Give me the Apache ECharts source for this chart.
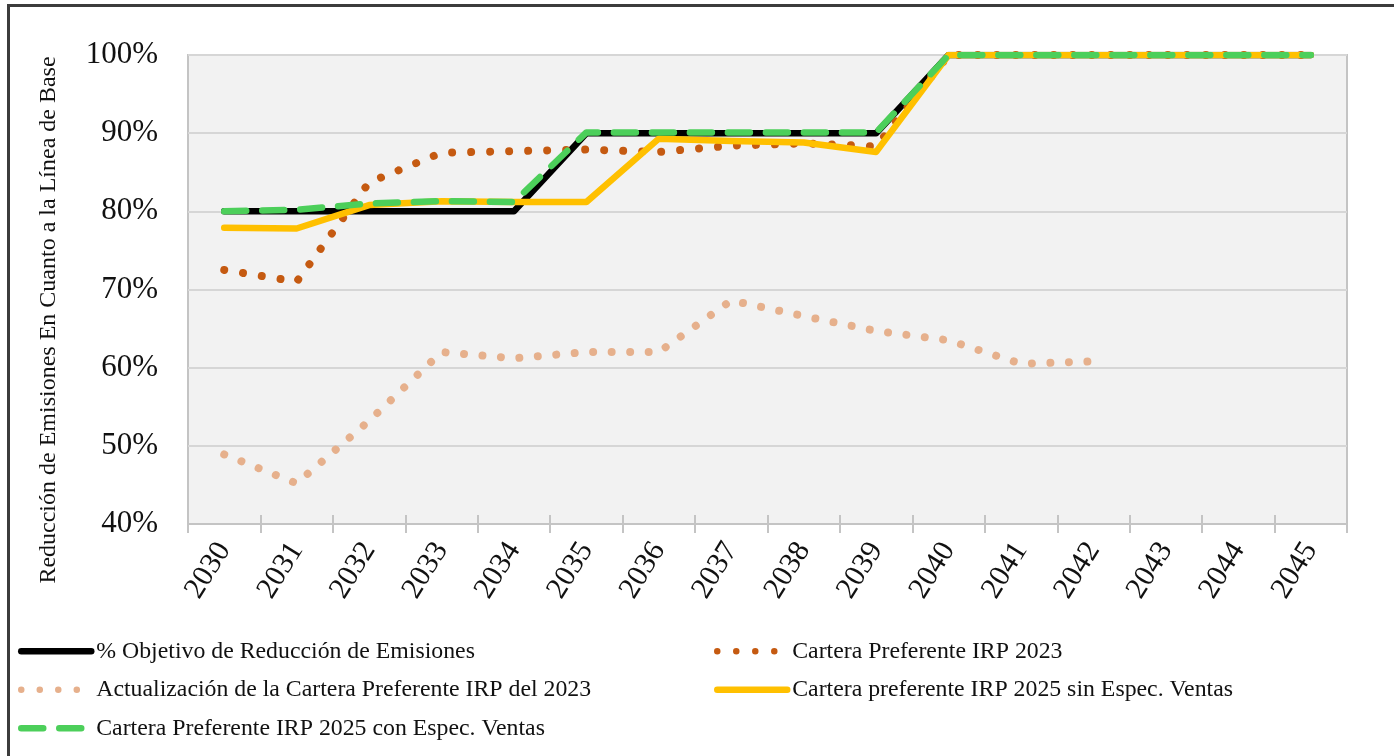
<!DOCTYPE html>
<html>
<head>
<meta charset="utf-8">
<script src="https://cdn.jsdelivr.net/npm/echarts@6/dist/echarts.min.js"></script>
<style>
html,body{margin:0;padding:0;background:#fff;}
#chart{width:1394px;height:756px;}
</style>
</head>
<body>
<div id="chart"></div>
<script>
const categories = ['2030','2031','2032','2033','2034','2035','2036','2037','2038','2039','2040','2041','2042','2043','2044','2045'];
const objetivo = [80,80,80,80,80,90,90,90,90,90,100,100,100,100,100,100];
const irp2023 = [72.5,71.0,83.7,87.5,87.7,87.9,87.6,88.4,88.7,88.3,100,100,100,100,100,100];
const actualizacion = [48.9,45.2,53.2,62.0,61.2,62.0,62.0,68.6,66.6,64.7,63.5,60.5,60.8,null,null,null];
const sinEspec = [77.9,77.8,80.8,81.3,81.2,81.2,89.3,89.0,88.8,87.6,100,100,100,100,100,100];
const conEspec = [80.0,80.2,81.0,81.3,81.2,90.1,90.1,90.1,90.1,90.1,100,100,100,100,100,100];
const yTicks = {min:40, max:100, interval:10};
const names = ['% Objetivo de Reducción de Emisiones','Cartera Preferente IRP 2023','Actualización de la Cartera Preferente IRP del 2023','Cartera preferente IRP 2025 sin Espec. Ventas','Cartera Preferente IRP 2025 con Espec. Ventas'];
const yName = 'Reducción de Emisiones En Cuanto a la Línea de Base';

const FONT = '"Liberation Serif", "DejaVu Serif", serif';
const chart = echarts.init(document.getElementById('chart'), null, {renderer:'canvas'});
const dotW = 8;
const legendCommon = {
  orient:'vertical', itemWidth:70, itemHeight:14, itemGap:10, padding:0,
  textStyle:{fontFamily:FONT, fontSize:23.8, color:'#111', lineHeight:28.5},
  lineStyle:{width:6.5},
  itemStyle:{color:'rgba(0,0,0,0)', borderWidth:0, opacity:0}
};
chart.setOption({
  animation:false,
  backgroundColor:'#ffffff',
  textStyle:{fontFamily:FONT},
  grid:{left:188, right:47, top:55, bottom:232, show:true, backgroundColor:'#f2f2f2', borderColor:'#c4c4c4', borderWidth:2},
  graphic:[
    {type:'rect', shape:{x:8.5, y:5.5, width:1420, height:800}, style:{fill:null, stroke:'#3c3c3c', lineWidth:3}, silent:true},
    {type:'text', x:49, y:320, rotation:Math.PI/2, style:{text:yName, font:'24px ' + FONT, fill:'#111', align:'center', verticalAlign:'middle'}}
  ],
  legend:[
    Object.assign({left:18, top:637, data:[names[0], names[2], names[4]]}, legendCommon),
    Object.assign({left:714, top:637, data:[names[1], names[3]]}, legendCommon)
  ],
  xAxis:[
    {type:'category', data:categories, boundaryGap:true,
     axisLine:{lineStyle:{color:'#c4c4c4', width:2}},
     axisTick:{show:true, length:9, lineStyle:{color:'#c4c4c4', width:2}},
     axisLabel:{rotate:58, fontFamily:FONT, fontSize:30, color:'#111', margin:21, interval:0},
     splitLine:{show:false}},
    {type:'category', data:categories, boundaryGap:true, position:'bottom',
     axisLine:{show:false},
     axisTick:{show:true, inside:true, length:9, lineStyle:{color:'#c4c4c4', width:2}},
     axisLabel:{show:false}, splitLine:{show:false}}
  ],
  yAxis:{type:'value', min:yTicks.min, max:yTicks.max, interval:yTicks.interval,
     axisLine:{show:false}, axisTick:{show:false},
     axisLabel:{formatter:'{value}%', fontFamily:FONT, fontSize:31, color:'#111', margin:30},
     splitLine:{lineStyle:{color:'#d6d6d6', width:2}}},
  series:[
    {name:names[0], type:'line', data:objetivo, symbol:'none', z:2,
     lineStyle:{color:'#000000', width:6.5, cap:'round', join:'round'}, itemStyle:{color:'#000000'}},
    {name:names[1], type:'line', data:irp2023, symbol:'none', z:3,
     lineStyle:{color:'#c55a11', width:dotW, type:[0.01,19], cap:'round', join:'round'}, itemStyle:{color:'#c55a11'}},
    {name:names[2], type:'line', data:actualizacion, symbol:'none', z:4,
     lineStyle:{color:'#e6b08c', width:dotW, type:[0.01,18.5], cap:'round', join:'round'}, itemStyle:{color:'#e6b08c'}},
    {name:names[3], type:'line', data:sinEspec, symbol:'none', z:5,
     lineStyle:{color:'#ffc000', width:6.5, cap:'round', join:'round'}, itemStyle:{color:'#ffc000'}},
    {name:names[4], type:'line', data:conEspec, symbol:'none', z:6,
     lineStyle:{color:'#4ccf5a', width:6.5, type:[22,16], cap:'round', join:'round'}, itemStyle:{color:'#4ccf5a'}}
  ]
});
</script>
</body>
</html>
